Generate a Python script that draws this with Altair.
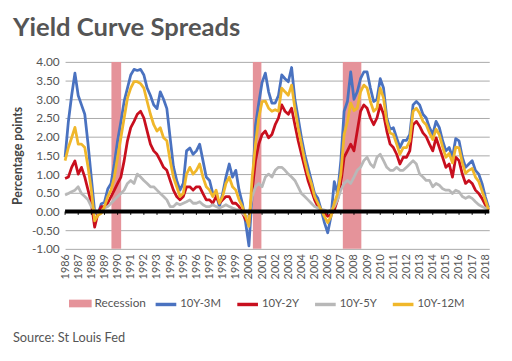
import altair as alt
import pandas as pd

# quarterly positions along the (label) year axis
years = [1986 + 0.25 * i for i in range(130)]

spread_10y_3m = [
    1.45, 2.4, 3.1, 3.7,
    3.1, 2.85, 2.6, 1.8,
    0.9, 0.0, -0.1, 0.2,
    0.25, 0.6, 0.75, 1.27,
    1.9, 2.4, 2.95, 3.3,
    3.65, 3.8, 3.77, 3.8,
    3.65, 3.3, 3.1, 2.85,
    2.75, 3.2, 3.0, 2.75,
    1.97, 1.2, 0.83, 0.57,
    0.75, 1.62, 1.7, 1.53,
    1.62, 1.8, 1.36, 0.92,
    0.83, 0.48, 0.48, 0.13,
    0.48, 0.92, 1.27, 0.92,
    1.1, 0.57, 0.22, -0.3,
    -0.92, 0.48, 2.3, 2.9,
    3.45, 3.7, 3.2, 2.9,
    2.9, 3.1, 3.65, 3.55,
    3.47, 3.85, 3.0, 2.5,
    1.97, 1.53, 1.18, 0.83,
    0.48, 0.35, 0.04, -0.3,
    -0.57, -0.13, 0.8, 0.48,
    1.36, 2.68, 2.94, 3.73,
    3.0, 3.2, 3.55, 3.73,
    3.73, 3.3, 2.94, 3.0,
    3.55, 3.3, 2.5, 2.2,
    2.24, 1.97, 1.71, 1.9,
    1.9, 2.06, 2.85, 2.94,
    2.85, 2.6, 2.5, 2.24,
    2.06, 2.41, 2.24, 1.89,
    1.62, 1.71, 1.45, 1.95,
    1.89, 1.45, 1.18, 1.27,
    1.36, 1.1, 1.0, 0.75,
    0.4, 0.1,
]

spread_10y_2y = [
    0.88, 0.92, 1.18, 1.35,
    1.0, 1.18, 0.92, 0.57,
    0.22, -0.42, -0.05, 0.13,
    0.13, 0.22, 0.4, 0.57,
    0.75, 0.92, 1.36, 1.89,
    2.24, 2.41, 2.6, 2.68,
    2.5, 2.15, 1.8, 1.62,
    1.53, 1.36, 1.18, 1.1,
    0.83, 0.57, 0.4, 0.31,
    0.4, 0.66, 0.66, 0.57,
    0.66, 0.66, 0.48, 0.31,
    0.31, 0.22, 0.4, 0.22,
    0.31, 0.4, 0.4, 0.22,
    0.22, 0.13, -0.04, -0.22,
    -0.3, 0.57, 1.36, 1.8,
    2.06, 2.15, 1.97, 2.06,
    2.32, 2.5, 2.85, 2.68,
    2.6, 2.76, 2.32, 1.89,
    1.53, 1.18, 0.83, 0.57,
    0.31, 0.13, 0.04, -0.04,
    -0.13, -0.09, 0.04, 0.31,
    0.75, 1.45, 1.62, 1.8,
    1.62, 2.15, 2.68, 2.85,
    2.76, 2.5, 2.32, 2.5,
    2.85, 2.6, 2.15, 1.8,
    1.71, 1.53, 1.27, 1.45,
    1.45, 1.62, 2.32, 2.41,
    2.28, 2.1, 2.0, 1.8,
    1.62, 1.97, 1.71, 1.45,
    1.18, 1.27, 0.92, 1.45,
    1.36, 1.0, 0.75, 0.83,
    0.75, 0.57, 0.48, 0.35,
    0.18, 0.04,
]

spread_10y_5y = [
    0.44, 0.48, 0.53, 0.57,
    0.66, 0.48, 0.4, 0.31,
    0.13, 0.04, -0.04, 0.0,
    0.09, 0.13, 0.22, 0.31,
    0.4, 0.48, 0.57, 0.75,
    0.83, 0.75, 1.0, 0.92,
    0.83, 0.75, 0.66, 0.66,
    0.57, 0.48, 0.4, 0.31,
    0.13, 0.13, 0.22, 0.18,
    0.22, 0.26, 0.31, 0.22,
    0.22, 0.26, 0.18, 0.13,
    0.13, 0.18, 0.13, 0.09,
    0.13, 0.18, 0.13, 0.09,
    0.06, 0.04, -0.04, -0.13,
    -0.13, 0.4, 0.66, 0.75,
    0.66, 0.92, 1.0, 0.92,
    1.1, 1.18, 1.18, 1.1,
    1.0, 0.92, 0.83, 0.66,
    0.48, 0.4, 0.31, 0.22,
    0.13, 0.09, 0.06, 0.04,
    0.0, 0.04, 0.13, 0.31,
    0.57, 0.75, 0.83, 0.75,
    0.92, 1.1, 1.18, 1.36,
    1.45, 1.27, 1.18, 1.45,
    1.53, 1.36, 1.18, 1.1,
    1.1, 1.18, 1.1, 1.1,
    1.18, 1.27, 1.36, 1.27,
    1.0, 0.92, 0.83, 0.83,
    0.66, 0.75, 0.7, 0.61,
    0.57, 0.57, 0.48, 0.57,
    0.53, 0.4, 0.35, 0.4,
    0.35, 0.26, 0.18, 0.13,
    0.09, 0.06,
]

spread_10y_12m = [
    1.36, 1.71, 1.97, 2.25,
    1.8, 1.8, 1.71, 1.18,
    0.57, -0.25, -0.1, -0.05,
    0.13, 0.4, 0.57, 0.92,
    1.45, 1.97, 2.5, 3.03,
    3.3, 3.47, 3.47, 3.42,
    3.3, 2.94, 2.6, 2.32,
    2.15, 2.24, 1.97, 1.89,
    1.36, 0.92, 0.66, 0.4,
    0.48, 1.0, 1.18, 1.0,
    1.1, 1.27, 0.92, 0.66,
    0.57, 0.4, 0.57, 0.22,
    0.4, 0.75, 0.92, 0.66,
    0.57, 0.31, 0.13, -0.13,
    -0.4, 0.92, 1.8, 2.5,
    2.94, 2.95, 2.76, 2.68,
    2.72, 2.68, 3.3, 3.2,
    3.11, 3.38, 2.76, 2.24,
    1.8, 1.36, 1.0, 0.75,
    0.4, 0.22, 0.04, -0.13,
    -0.3, -0.13, 0.22, 0.48,
    1.0, 2.06, 2.4, 2.9,
    2.7, 2.76, 3.2, 3.38,
    3.3, 2.94, 2.68, 2.76,
    3.3, 3.03, 2.4, 2.1,
    2.06, 1.8, 1.53, 1.71,
    1.71, 1.89, 2.68, 2.76,
    2.63, 2.41, 2.32, 2.1,
    1.92, 2.2, 2.05, 1.72,
    1.45, 1.55, 1.3, 1.72,
    1.7, 1.3, 1.02, 1.1,
    1.15, 0.92, 0.8, 0.55,
    0.3, 0.05,
]

series_names = ["10Y-3M", "10Y-2Y", "10Y-5Y", "10Y-12M"]
series_colors = ["#4a72c0", "#c80f1e", "#b8b8b8", "#f0b72a"]

recession_start = [1989.53, 2000.3, 2007.15]
recession_end = [1990.27, 2000.95, 2008.56]

year_ticks = list(range(1986, 2019))
value_ticks = [-1.0, -0.5, 0.0, 0.5, 1.0, 1.5, 2.0, 2.5, 3.0, 3.5, 4.0]

# ---- tables built from the arrays ----
all_series = [spread_10y_3m, spread_10y_2y, spread_10y_5y, spread_10y_12m]
rows = []
for name, vals in zip(series_names, all_series):
    for yr, v in zip(years, vals):
        rows.append({"year": yr, "value": v, "series": name})
lines_df = pd.DataFrame(rows)

rec_df = pd.DataFrame({"start": recession_start, "end": recession_end,
                       "label": ["Recession"] * len(recession_start)})
zero_df = pd.DataFrame({"v": [0.0]})
tick_df = pd.DataFrame({"tick": year_ticks, "t0": [0.0] * len(year_ticks),
                        "t1": [-0.09] * len(year_ticks)})
one_df = pd.DataFrame({"a": [0]})

grey_text = "#555555"

x_scale = alt.Scale(domain=[1986, 2018.3], nice=False, zero=False)
y_scale = alt.Scale(domain=[-1, 4], nice=False, zero=False)

x_axis = alt.Axis(values=year_ticks, format="d", labelAngle=270, grid=False,
                  domain=False, ticks=False, labelPadding=5, labelFontSize=11,
                  labelColor=grey_text, labelOverlap=False, labelFlush=False,
                  title=None)
y_axis = alt.Axis(values=value_ticks,
                  labelExpr="datum.value < 0 ? '-' + format(-datum.value, '.2f') : format(datum.value, '.2f')",
                  grid=True, gridColor="#a8a8a8", gridWidth=1, domain=False,
                  ticks=False, labelPadding=6, labelFontSize=12,
                  labelColor=grey_text, title="Percentage points",
                  titleFontSize=12.5, titleFontWeight="bold", titleColor="#444444",
                  titlePadding=7)

stroke_enc = alt.Stroke("series:N",
                        scale=alt.Scale(domain=series_names, range=series_colors),
                        legend=alt.Legend(title=None, orient="none", legendX=90, legendY=234,
                                          direction="horizontal", symbolType="stroke",
                                          symbolSize=441, symbolStrokeWidth=3.5,
                                          labelFontSize=11.5, labelColor=grey_text,
                                          labelOffset=2, columnPadding=9, padding=0,
                                          gridAlign="none"))

rects = alt.Chart(rec_df).mark_rect(opacity=1).encode(
    x=alt.X("start:Q", scale=x_scale, axis=x_axis, title=None),
    x2="end:Q",
    fill=alt.Fill("label:N",
                  scale=alt.Scale(domain=["Recession"], range=["#e5939a"]),
                  legend=alt.Legend(title=None, orient="none", legendX=4, legendY=234,
                                    direction="horizontal",
                                    symbolType="M-1,-0.34H1V0.34H-1Z",
                                    symbolSize=529, symbolStrokeWidth=0,
                                    labelFontSize=12, labelColor=grey_text,
                                    labelOffset=3, padding=0)),
)

line_layers = []
for name in series_names:
    line_layers.append(
        alt.Chart(lines_df).transform_filter(alt.datum.series == name)
        .mark_line(strokeWidth=2.8, strokeJoin="round")
        .encode(
            x=alt.X("year:Q", scale=x_scale, axis=x_axis, title=None),
            y=alt.Y("value:Q", scale=y_scale, axis=y_axis),
            stroke=stroke_enc,
        )
    )

zero_line = alt.Chart(zero_df).mark_rule(color="black", strokeWidth=4).encode(
    y=alt.Y("v:Q", scale=y_scale, axis=y_axis)
)

zero_ticks = alt.Chart(tick_df).mark_rule(color="black", strokeWidth=1).encode(
    x=alt.X("tick:Q", scale=x_scale, axis=x_axis, title=None),
    y=alt.Y("t0:Q", scale=y_scale, axis=y_axis),
    y2="t1:Q",
)

title_text = alt.Chart(one_df).mark_text(
    text="Yield Curve Spreads", align="left", baseline="alphabetic",
    font="Lato", fontSize=26, fontWeight="bold", color="#555555"
).encode(x=alt.value(-53), y=alt.value(-26))

source_text = alt.Chart(one_df).mark_text(
    text="Source: St Louis Fed", align="left", baseline="alphabetic",
    font="Lato", fontSize=13, color=grey_text
).encode(x=alt.value(-53), y=alt.value(285))

chart = alt.layer(
    rects, *line_layers, zero_line, zero_ticks, title_text, source_text
).properties(
    width=431, height=190,
    autosize=alt.AutoSizeParams(type="none"),
    padding={"left": 58, "top": 52, "right": 15, "bottom": 100},
).configure(
    font="Lato",
).configure_view(stroke=None)

chart.save("out.html", embed_options={"renderer": "svg", "actions": False})
